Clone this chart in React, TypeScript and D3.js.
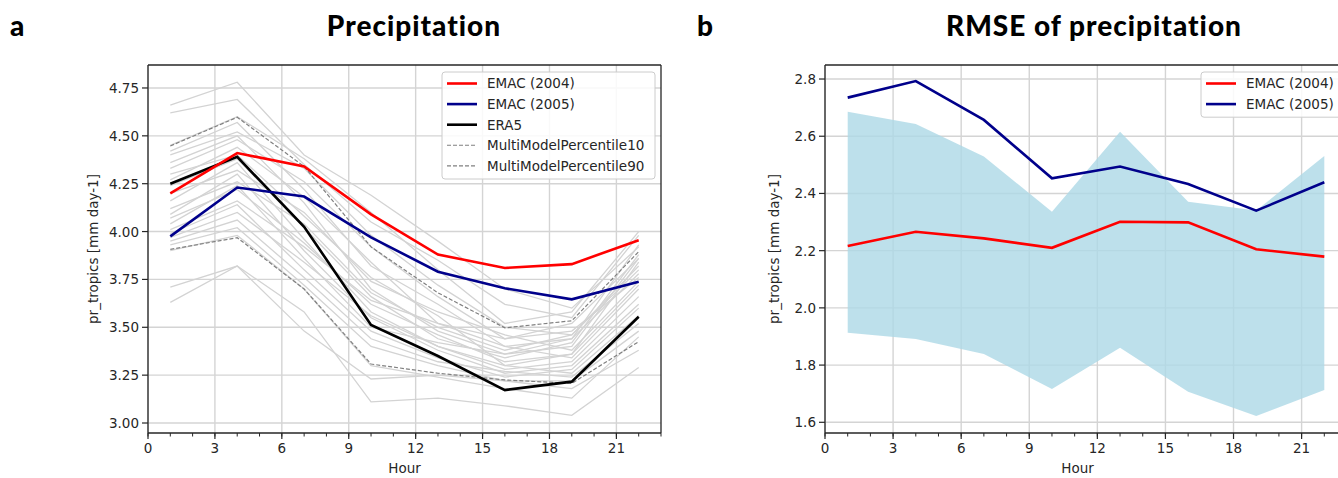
import React from "react";
import * as d3 from "d3";

// ---------- data ----------
const hours = [1, 4, 7, 10, 13, 16, 19, 22];

// Panel a: diurnal cycle of precipitation
const emac2004 = [4.2, 4.41, 4.34, 4.09, 3.88, 3.81, 3.83, 3.955];
const emac2005 = [3.975, 4.23, 4.183, 3.97, 3.79, 3.704, 3.646, 3.738];
const era5 = [4.25, 4.39, 4.025, 3.512, 3.35, 3.172, 3.216, 3.555];
const percentile10 = [3.907, 3.968, 3.7, 3.308, 3.26, 3.225, 3.207, 3.425];
const percentile90 = [4.447, 4.597, 4.34, 3.92, 3.68, 3.497, 3.534, 3.895];
const modelRuns: number[][] = [
  [4.66, 4.78, 4.4, 4.19, 3.95, 3.7, 3.6, 3.92],
  [4.62, 4.69, 4.35, 4.05, 3.85, 3.62, 3.55, 3.98],
  [4.45, 4.6, 4.38, 4.1, 3.8, 3.52, 3.58, 4.0],
  [4.42, 4.57, 4.22, 3.82, 3.62, 3.4, 3.44, 3.93],
  [4.4, 4.52, 4.33, 3.98, 3.72, 3.5, 3.46, 3.8],
  [4.36, 4.5, 4.15, 3.7, 3.48, 3.36, 3.4, 3.86],
  [4.33, 4.48, 4.26, 3.92, 3.66, 3.44, 3.48, 3.76],
  [4.3, 4.4, 4.08, 3.76, 3.56, 3.3, 3.36, 3.84],
  [4.27, 4.44, 4.18, 3.84, 3.52, 3.4, 3.34, 3.7],
  [4.24, 4.38, 4.02, 3.66, 3.44, 3.34, 3.42, 3.88],
  [4.2, 4.32, 4.1, 3.74, 3.58, 3.46, 3.38, 3.74],
  [4.16, 4.36, 3.96, 3.58, 3.4, 3.28, 3.32, 3.66],
  [4.12, 4.26, 4.04, 3.68, 3.5, 3.38, 3.46, 3.82],
  [4.09, 4.3, 3.9, 3.55, 3.38, 3.26, 3.3, 3.62],
  [4.07, 4.22, 3.94, 3.62, 3.46, 3.32, 3.36, 3.72],
  [4.04, 4.24, 3.86, 3.5, 3.42, 3.36, 3.44, 3.78],
  [4.01, 4.16, 3.92, 3.64, 3.52, 3.44, 3.52, 3.86],
  [3.99, 4.14, 3.8, 3.48, 3.34, 3.24, 3.28, 3.6],
  [3.97, 4.1, 3.84, 3.56, 3.4, 3.3, 3.26, 3.56],
  [3.95, 4.06, 3.76, 3.44, 3.32, 3.27, 3.24, 3.52],
  [3.93, 4.02, 3.72, 3.4, 3.3, 3.22, 3.22, 3.48],
  [3.9, 3.98, 3.7, 3.3, 3.24, 3.18, 3.13, 3.45],
  [3.71, 3.82, 3.48, 3.23, 3.25, 3.22, 3.18, 3.38],
  [3.63, 3.82, 3.58, 3.11, 3.13, 3.09, 3.04, 3.29],
];

// Panel b: RMSE
const rmse2004 = [2.216, 2.266, 2.243, 2.21, 2.301, 2.299, 2.205, 2.179];
const rmse2005 = [2.735, 2.793, 2.657, 2.453, 2.494, 2.433, 2.34, 2.439];
const rmseLow = [1.913, 1.891, 1.839, 1.716, 1.861, 1.707, 1.622, 1.713];
const rmseHigh = [2.686, 2.643, 2.529, 2.336, 2.616, 2.371, 2.34, 2.531];

const xMajorTicks = [0, 3, 6, 9, 12, 15, 18, 21];
const xMinorTicks = d3.range(0, 24);
const yTicksA = [3.0, 3.25, 3.5, 3.75, 4.0, 4.25, 4.5, 4.75];
const yTicksB = [1.6, 1.8, 2.0, 2.2, 2.4, 2.6, 2.8];

const legendA = [
  { label: "EMAC (2004)", color: "#ff0000", width: 2.6, dash: "" },
  { label: "EMAC (2005)", color: "#00008b", width: 2.6, dash: "" },
  { label: "ERA5", color: "#000000", width: 2.6, dash: "" },
  { label: "MultiModelPercentile10", color: "#808080", width: 1.1, dash: "4,2" },
  { label: "MultiModelPercentile90", color: "#808080", width: 1.1, dash: "4,2" },
];
const legendB = legendA.slice(0, 2);

const FONT = "'DejaVu Sans', sans-serif";
const TITLE_FONT = "Lato, 'DejaVu Sans', sans-serif";
const AX = "#262626";
const GRID = "#d4d4d4";

type Panel = {
  x0: number;
  x1: number;
  y0: number;
  y1: number;
  xDomain: [number, number];
  yDomain: [number, number];
};

function Axes({
  p,
  yTicks,
  fmt,
  ylabelX,
  clipId,
  children,
  showRight,
}: {
  p: Panel;
  yTicks: number[];
  fmt: (v: number) => string;
  ylabelX: number;
  clipId: string;
  children: React.ReactNode;
  showRight: boolean;
}) {
  const x = d3.scaleLinear().domain(p.xDomain).range([p.x0, p.x1]);
  const y = d3.scaleLinear().domain(p.yDomain).range([p.y1, p.y0]);
  const right = Math.min(p.x1, 1338);
  return (
    <g>
      <defs>
        <clipPath id={clipId}>
          <rect x={p.x0} y={p.y0} width={p.x1 - p.x0} height={p.y1 - p.y0} />
        </clipPath>
      </defs>
      {/* grid */}
      <g>
        {xMajorTicks.map((t) => (
          <line key={"gx" + t} x1={x(t)} x2={x(t)} y1={p.y0} y2={p.y1} stroke={GRID} strokeWidth={1.4} />
        ))}
        {yTicks.map((t) => (
          <line key={"gy" + t} x1={p.x0} x2={p.x1} y1={y(t)} y2={y(t)} stroke={GRID} strokeWidth={1.4} />
        ))}
      </g>
      <g clipPath={`url(#${clipId})`}>{children}</g>
      {/* spines */}
      <line x1={p.x0} x2={p.x0} y1={p.y0} y2={p.y1} stroke={AX} strokeWidth={1.3} />
      <line x1={p.x0} x2={p.x1} y1={p.y1} y2={p.y1} stroke={AX} strokeWidth={1.3} />
      <line x1={p.x0} x2={p.x1} y1={p.y0} y2={p.y0} stroke={AX} strokeWidth={1.3} />
      {showRight && <line x1={right} x2={right} y1={p.y0} y2={p.y1} stroke={AX} strokeWidth={1.3} />}
      {/* x ticks */}
      {xMinorTicks.map((t) => (
        <line key={"mx" + t} x1={x(t)} x2={x(t)} y1={p.y1} y2={p.y1 + 3.5} stroke={AX} strokeWidth={1} />
      ))}
      {xMajorTicks.map((t) => (
        <g key={"tx" + t}>
          <line x1={x(t)} x2={x(t)} y1={p.y1} y2={p.y1 + 6} stroke={AX} strokeWidth={1.2} />
          <text x={x(t)} y={p.y1 + 20} textAnchor="middle" fontFamily={FONT} fontSize={13.5} fill={AX}>
            {t}
          </text>
        </g>
      ))}
      {/* y ticks */}
      {yTicks.map((t) => (
        <g key={"ty" + t}>
          <line x1={p.x0 - 6} x2={p.x0} y1={y(t)} y2={y(t)} stroke={AX} strokeWidth={1.2} />
          <text x={p.x0 - 9} y={y(t) + 5} textAnchor="end" fontFamily={FONT} fontSize={13.5} fill={AX}>
            {fmt(t)}
          </text>
        </g>
      ))}
      <text
        x={(p.x0 + Math.min(p.x1, 1338)) / 2 - (p.x1 > 1338 ? 4 : 0)}
        y={p.y1 + 40}
        textAnchor="middle"
        fontFamily={FONT}
        fontSize={13.5}
        fill={AX}
      >
        Hour
      </text>
      <text
        transform={`translate(${ylabelX},${(p.y0 + p.y1) / 2}) rotate(-90)`}
        textAnchor="middle"
        fontFamily={FONT}
        fontSize={13.5}
        fill={AX}
      >
        pr_tropics [mm day-1]
      </text>
    </g>
  );
}

function Legend({
  x,
  y,
  w,
  items,
}: {
  x: number;
  y: number;
  w: number;
  items: { label: string; color: string; width: number; dash: string }[];
}) {
  const rowH = 20.6;
  const h = items.length * rowH + 4;
  return (
    <g>
      <rect x={x} y={y} width={w} height={h} rx={3} fill="#ffffff" fillOpacity={0.85} stroke="#cccccc" strokeWidth={1} />
      {items.map((it, i) => {
        const cy = y + 11.5 + i * rowH;
        return (
          <g key={it.label}>
            <line
              x1={x + 5}
              x2={x + 35}
              y1={cy}
              y2={cy}
              stroke={it.color}
              strokeWidth={it.width}
              strokeDasharray={it.dash || undefined}
            />
            <text x={x + 45} y={cy + 4.8} fontFamily={FONT} fontSize={13.5} fill={AX}>
              {it.label}
            </text>
          </g>
        );
      })}
    </g>
  );
}

export default function App() {
  const pA: Panel = { x0: 148, x1: 661, y0: 65, y1: 433, xDomain: [0, 23], yDomain: [2.9478, 4.87] };
  const pB: Panel = { x0: 825, x1: 1347, y0: 65, y1: 433, xDomain: [0, 23], yDomain: [1.5626, 2.849] };

  const xA = d3.scaleLinear().domain(pA.xDomain).range([pA.x0, pA.x1]);
  const yA = d3.scaleLinear().domain(pA.yDomain).range([pA.y1, pA.y0]);
  const xB = d3.scaleLinear().domain(pB.xDomain).range([pB.x0, pB.x1]);
  const yB = d3.scaleLinear().domain(pB.yDomain).range([pB.y1, pB.y0]);

  const lineA = d3
    .line<number>()
    .x((_, i) => xA(hours[i]))
    .y((d) => yA(d));
  const lineB = d3
    .line<number>()
    .x((_, i) => xB(hours[i]))
    .y((d) => yB(d));
  const areaB = d3
    .area<number>()
    .x((_, i) => xB(hours[i]))
    .y0((_, i) => yB(rmseLow[i]))
    .y1((d) => yB(d));

  const titleStyle = { letterSpacing: "1px" };

  return (
    <div style={{ position: "absolute", left: 0, top: 0 }}>
      <svg width={1338} height={478} style={{ display: "block", background: "#ffffff" }}>
        {/* Titles */}
        <text x={10} y={36} fontFamily={TITLE_FONT} fontWeight={900} fontSize={28} fill="#000">
          a
        </text>
        <text x={414} y={36} textAnchor="middle" fontFamily={TITLE_FONT} fontWeight={900} fontSize={28} fill="#000" style={titleStyle}>
          Precipitation
        </text>
        <text x={697} y={36} fontFamily={TITLE_FONT} fontWeight={900} fontSize={28} fill="#000">
          b
        </text>
        <text x={1094} y={36} textAnchor="middle" fontFamily={TITLE_FONT} fontWeight={900} fontSize={28} fill="#000" style={titleStyle}>
          RMSE of precipitation
        </text>

        <Axes p={pA} yTicks={yTicksA} fmt={(v) => v.toFixed(2)} ylabelX={98} clipId="clipA" showRight={true}>
          {modelRuns.map((r, i) => (
            <path key={"m" + i} d={lineA(r) || ""} fill="none" stroke="#d3d3d3" strokeWidth={1.3} />
          ))}
          <path d={lineA(percentile10) || ""} fill="none" stroke="#808080" strokeWidth={1.2} strokeDasharray="4,2" />
          <path d={lineA(percentile90) || ""} fill="none" stroke="#808080" strokeWidth={1.2} strokeDasharray="4,2" />
          <path d={lineA(era5) || ""} fill="none" stroke="#000000" strokeWidth={2.6} />
          <path d={lineA(emac2004) || ""} fill="none" stroke="#ff0000" strokeWidth={2.6} />
          <path d={lineA(emac2005) || ""} fill="none" stroke="#00008b" strokeWidth={2.6} />
        </Axes>
        <Legend x={442} y={72} w={213} items={legendA} />

        <Axes p={pB} yTicks={yTicksB} fmt={(v) => v.toFixed(1)} ylabelX={779} clipId="clipB" showRight={false}>
          <path d={areaB(rmseHigh) || ""} fill="#add8e6" fillOpacity={0.8} stroke="none" />
          <path d={lineB(rmse2004) || ""} fill="none" stroke="#ff0000" strokeWidth={2.6} />
          <path d={lineB(rmse2005) || ""} fill="none" stroke="#00008b" strokeWidth={2.6} />
        </Axes>
        <Legend x={1201} y={72} w={150} items={legendB} />
      </svg>
    </div>
  );
}
